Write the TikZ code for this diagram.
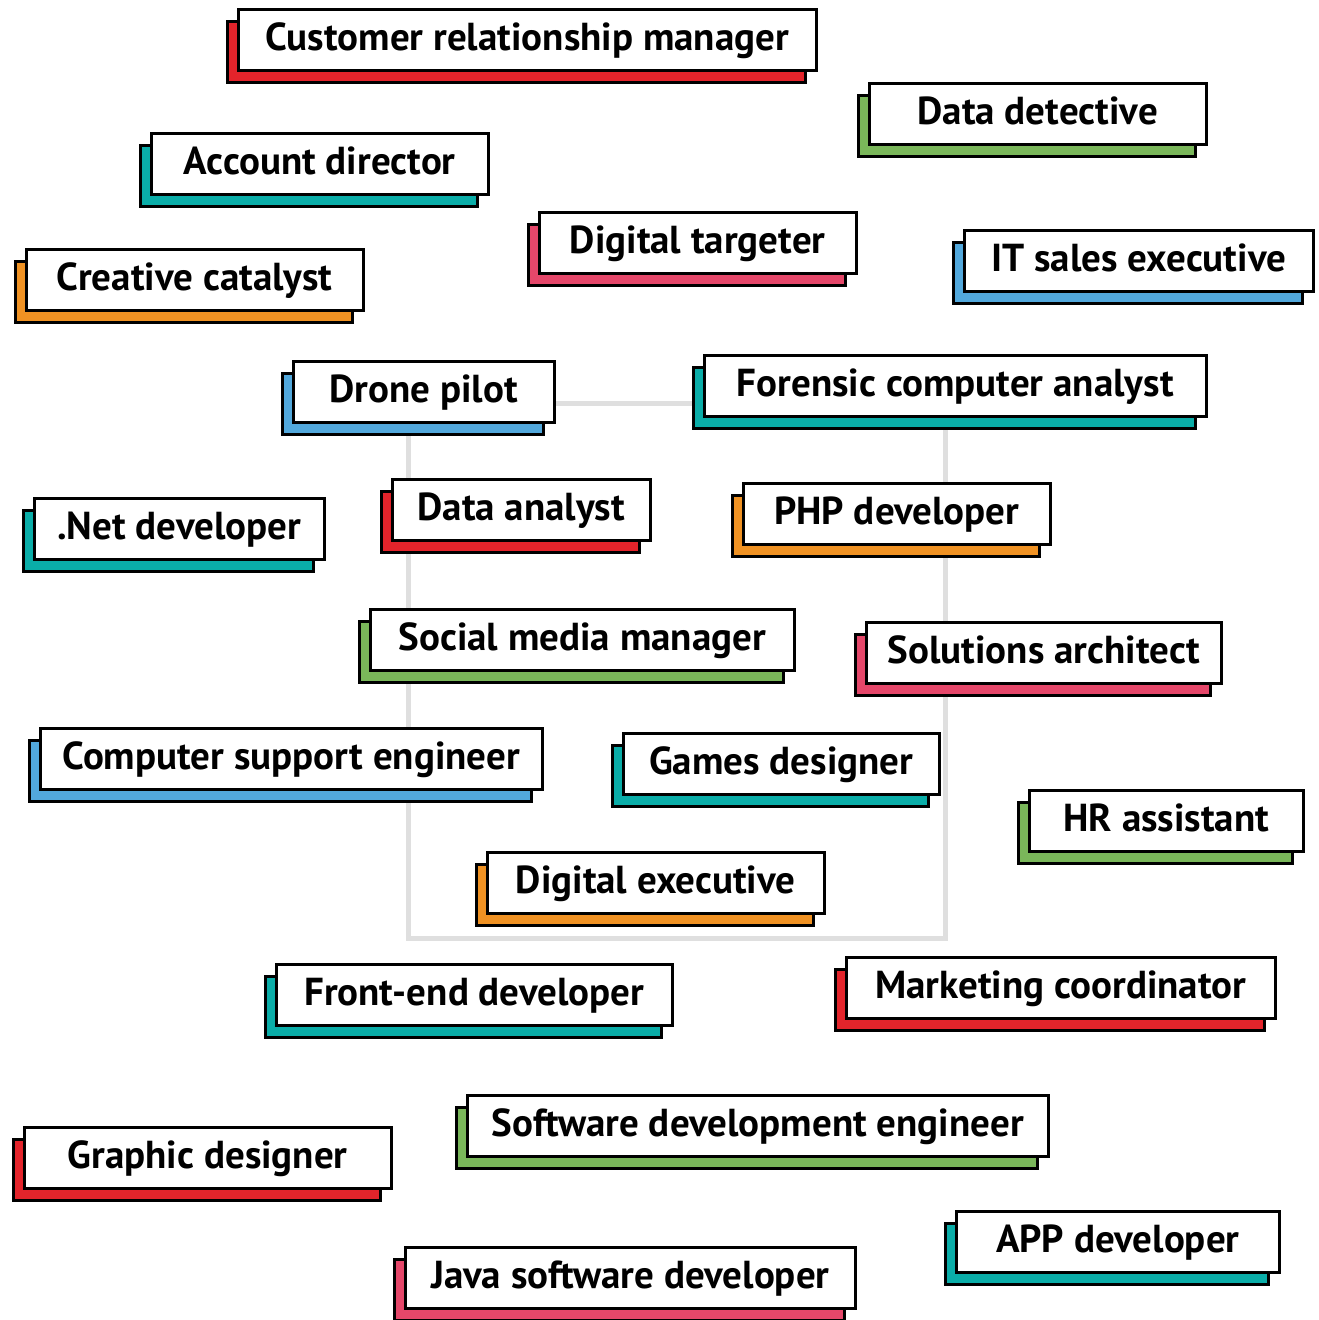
\documentclass[tikz,border=0pt]{standalone}
\usepackage{fontspec}
\setmainfont{PT Sans}
\usetikzlibrary{shadows}

\definecolor{jobred}{HTML}{E3242B}
\definecolor{jobteal}{HTML}{0AADA8}
\definecolor{jobgreen}{HTML}{7AB75A}
\definecolor{jobblue}{HTML}{52A8DC}
\definecolor{joborange}{HTML}{F09223}
\definecolor{jobpink}{HTML}{E5476A}
\definecolor{framegray}{HTML}{DFDFDF}

\tikzset{
	card/.style={draw=black, line width=2.5pt, fill=white, anchor=north west, inner sep=0pt,
		minimum height=61pt, text height=22pt, text depth=0pt,
		font=\fontsize{39}{41}\selectfont\bfseries,
		general shadow={fill=#1, draw=black, line width=2.5pt, shadow xshift=-11pt, shadow yshift=-12pt}},
	frame/.style={draw=framegray, line width=5pt}
}

\begin{document}
\begin{tikzpicture}[x=1pt, y=-1pt]
	\useasboundingbox (0, 0) rectangle (1319, 1320);
	
	\draw[frame] (408, 403) rectangle (945, 938);
	
	\node[card=jobred, minimum width=578pt] (crm) at (237, 8) {Customer relationship manager};
	\node[card=jobgreen, minimum width=337pt] (detective) at (868, 82) {Data detective};
	\node[card=jobteal, minimum width=337pt] (account) at (150, 132) {Account director};
	\node[card=jobpink, minimum width=317pt] (targeter) at (538, 211) {Digital targeter};
	\node[card=joborange, minimum width=337pt] (creative) at (25, 248) {Creative catalyst};
	\node[card=jobblue, minimum width=349pt] (itsales) at (963, 229) {IT sales executive};
	\node[card=jobblue, minimum width=261pt] (drone) at (292, 360) {Drone pilot};
	\node[card=jobteal, minimum width=502pt] (forensic) at (703, 354) {Forensic computer analyst};
	\node[card=jobteal, minimum width=290pt] (dotnet) at (33, 497) {.Net developer};
	\node[card=jobred, minimum width=258pt] (analyst) at (391, 478) {Data analyst};
	\node[card=joborange, minimum width=307pt] (php) at (742, 482) {PHP developer};
	\node[card=jobgreen, minimum width=424pt] (social) at (369, 608) {Social media manager};
	\node[card=jobpink, minimum width=355pt] (solutions) at (865, 621) {Solutions architect};
	\node[card=jobblue, minimum width=502pt] (support) at (39, 727) {Computer support engineer};
	\node[card=jobteal, minimum width=316pt] (games) at (622, 732) {Games designer};
	\node[card=jobgreen, minimum width=274pt] (hr) at (1028, 789) {HR assistant};
	\node[card=joborange, minimum width=337pt] (digexec) at (486, 851) {Digital executive};
	\node[card=jobteal, minimum width=396pt] (frontend) at (275, 963) {Front-end developer};
	\node[card=jobred, minimum width=429pt] (marketing) at (845, 956) {Marketing coordinator};
	\node[card=jobred, minimum width=367pt] (graphic) at (23, 1126) {Graphic designer};
	\node[card=jobgreen, minimum width=581pt] (software) at (466, 1094) {Software development engineer};
	\node[card=jobteal, minimum width=323pt] (app) at (955, 1210) {APP developer};
	\node[card=jobpink, minimum width=450pt] (java) at (404, 1246) {Java software developer};
\end{tikzpicture}
\end{document}
